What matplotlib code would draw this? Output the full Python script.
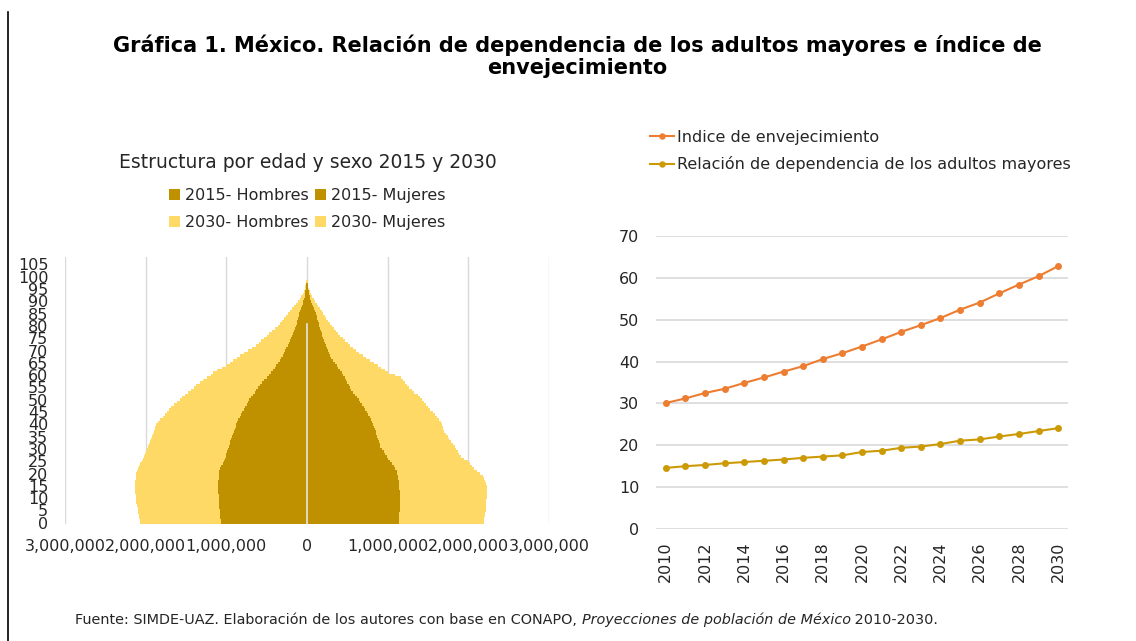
import matplotlib.pyplot as plt
from matplotlib.lines import Line2D
from matplotlib.ticker import FuncFormatter

# --- pyramid data (people, in thousands), ages 0..105 ---
edades = list(range(106))

h2015 = [1070, 1072, 1075, 1078, 1080, 1083, 1085, 1088, 1090, 1092,
         1095, 1097, 1098, 1100, 1100, 1100, 1099, 1098, 1096, 1094,
         1090, 1085, 1075, 1060, 1045, 1030, 1020, 1010, 1000, 990,
         980, 970, 960, 950, 940, 930, 920, 905, 895, 885,
         875, 865, 850, 835, 815, 800, 785, 765, 750, 735,
         715, 695, 675, 650, 630, 605, 580, 555, 530, 500,
         475, 450, 425, 400, 380, 360, 340, 320, 300, 285,
         270, 255, 240, 225, 210, 195, 180, 170, 160, 150,
         140, 130, 120, 110, 102, 95, 85, 75, 65, 55,
         45, 38, 30, 24, 19, 15, 11, 8, 5, 3,
         2, 1.5, 1, 0.5, 0.3, 0.2]

h2030 = [1000, 1003, 1005, 1007, 1010, 1012, 1015, 1022, 1025, 1028,
         1027, 1028, 1029, 1028, 1030, 1030, 1031, 1030, 1030, 1029,
         1030, 1025, 1020, 1020, 1020, 1020, 1015, 1010, 1005, 1000,
         998, 996, 994, 992, 990, 990, 990, 995, 995, 995,
         995, 985, 970, 955, 950, 940, 925, 915, 900, 880,
         865, 850, 835, 825, 810, 800, 790, 775, 760, 740,
         720, 710, 685, 655, 620, 600, 575, 550, 530, 495,
         460, 425, 390, 375, 360, 340, 320, 295, 270, 245,
         220, 205, 190, 175, 158, 140, 125, 110, 95, 80,
         65, 52, 42, 31, 21, 13, 9, 6, 4, 3,
         2, 1.5, 1, 1, 0.7, 0.3]

m2015 = [1140, 1142, 1144, 1145, 1146, 1147, 1148, 1149, 1150, 1150,
         1150, 1150, 1150, 1148, 1146, 1144, 1140, 1135, 1130, 1125,
         1120, 1110, 1095, 1075, 1055, 1035, 1010, 990, 970, 950,
         930, 910, 900, 890, 880, 870, 860, 850, 838, 826,
         814, 802, 790, 776, 760, 742, 722, 702, 682, 660,
         640, 618, 595, 572, 550, 533, 516, 499, 482, 465,
         448, 430, 410, 390, 370, 350, 325, 300, 285, 270,
         258, 246, 234, 222, 210, 200, 190, 180, 170, 160,
         150, 145, 140, 130, 120, 110, 100, 90, 75, 65,
         50, 42, 35, 28, 22, 17, 12, 8, 5, 3,
         3, 2, 1.5, 1, 0.5, 0.3]

m2030 = [1050, 1053, 1056, 1060, 1064, 1067, 1069, 1071, 1072, 1074,
         1076, 1078, 1079, 1082, 1084, 1084, 1082, 1075, 1065, 1055,
         1020, 995, 975, 970, 965, 955, 940, 920, 920, 920,
         920, 920, 908, 896, 884, 872, 860, 850, 852, 854,
         856, 856, 850, 839, 830, 818, 808, 798, 788, 785,
         780, 777, 775, 758, 750, 737, 724, 711, 703, 695,
         637, 580, 555, 530, 505, 480, 460, 435, 405, 370,
         347, 324, 301, 283, 265, 245, 220, 205, 190, 175,
         160, 143, 124, 110, 100, 90, 80, 70, 65, 55,
         50, 40, 30, 22, 14, 9, 6, 4, 3, 2,
         1, 1, 0.8, 0.5, 0.3, 0.2]

# --- line chart data ---
anios = list(range(2010, 2031))
indice_env = [30.1, 31.2, 32.5, 33.5, 34.9, 36.2, 37.6, 38.9, 40.6, 42.0, 43.6,
              45.3, 47.1, 48.7, 50.4, 52.4, 54.1, 56.3, 58.4, 60.4, 62.8]
rel_dep = [14.6, 15.0, 15.3, 15.7, 16.0, 16.3, 16.6, 17.0, 17.3, 17.6, 18.4,
           18.7, 19.4, 19.7, 20.3, 21.1, 21.4, 22.1, 22.7, 23.4, 24.1]

OSCURO = '#BF9000'
CLARO = '#FFD966'
NARANJA = '#ED7D31'
DORADO = '#CC9A06'
GRIS = '#D9D9D9'
TXT = '#262626'

plt.rcParams['font.family'] = ['DejaVu Sans']

W, H = 1136, 641
fig = plt.figure(figsize=(W / 100, H / 100), dpi=100)

def px(x0, y0, x1, y1):
    return [x0 / W, 1 - y1 / H, (x1 - x0) / W, (y1 - y0) / H]

# --- pyramid ---
ax1 = fig.add_axes(px(65, 257, 549, 524))
k = 1000
hb = [-v * k for v in h2015]
hb30 = [-v * k for v in h2030]
mb = [v * k for v in m2015]
mb30 = [v * k for v in m2030]
b1 = ax1.barh(edades, hb, height=1.0, color=OSCURO, linewidth=0, label='2015- Hombres')
b2 = ax1.barh(edades, mb, height=1.0, color=OSCURO, linewidth=0, label='2015- Mujeres')
b3 = ax1.barh(edades, hb30, left=hb, height=1.0, color=CLARO, linewidth=0, label='2030- Hombres')
b4 = ax1.barh(edades, mb30, left=mb, height=1.0, color=CLARO, linewidth=0, label='2030- Mujeres')
ax1.set_xlim(-3e6, 3e6)
ax1.set_ylim(-0.5, 108)
ax1.set_xticks([-3e6, -2e6, -1e6, 0, 1e6, 2e6, 3e6])
ax1.xaxis.set_major_formatter(FuncFormatter(lambda v, p: f'{abs(int(v)):,}'))
ax1.set_yticks(range(0, 106, 5))
ax1.grid(axis='x', color=GRIS, linewidth=1, zorder=0)
ax1.set_axisbelow(True)
ax1.axvline(0, color='#E6E6E6', linewidth=1.2, ymax=0.75, zorder=3)
for s in ax1.spines.values():
    s.set_visible(False)
ax1.tick_params(length=0, labelsize=11.5, colors=TXT)
ax1.tick_params(axis='x', pad=11)
ax1.tick_params(axis='y', pad=12)

fig.text(308 / W, 1 - 163 / H, 'Estructura por edad y sexo 2015 y 2030',
         ha='center', va='center', fontsize=13.5, color=TXT)
fig.legend([b1, b3, b2, b4], ['2015- Hombres', '2030- Hombres', '2015- Mujeres', '2030- Mujeres'],
           ncol=2, loc='center', bbox_to_anchor=(307 / W, 1 - 209 / H), frameon=False,
           fontsize=11.5, handlelength=0.7, handleheight=0.7, handletextpad=0.3,
           columnspacing=0.4, labelspacing=0.75, borderpad=0, labelcolor=TXT)

# --- line chart ---
ax2 = fig.add_axes(px(656, 236, 1068, 529))
l1, = ax2.plot(anios, indice_env, color=NARANJA, marker='o', markersize=4, linewidth=1.5)
l2, = ax2.plot(anios, rel_dep, color=DORADO, marker='o', markersize=4, linewidth=1.5)
ax2.set_xlim(2009.5, 2030.5)
ax2.set_ylim(0, 70)
ax2.set_yticks(range(0, 71, 10))
ax2.set_xticks(range(2010, 2031, 2))
ax2.grid(axis='y', color=GRIS, linewidth=1.2)
ax2.set_axisbelow(True)
for s in ax2.spines.values():
    s.set_visible(False)
ax2.tick_params(length=0, labelsize=11.5, colors=TXT)
ax2.tick_params(axis='x', rotation=90, pad=9)
ax2.tick_params(axis='y', pad=12)

fig.legend([l1, l2], ['Indice de envejecimiento', 'Relación de dependencia de los adultos mayores'],
           loc='upper left', bbox_to_anchor=(650 / W, 1 - 130 / H), frameon=False,
           fontsize=11.5, handlelength=1.5, handletextpad=0.2, labelspacing=0.7,
           borderpad=0, borderaxespad=0, labelcolor=TXT, markerscale=0.9)

# --- title ---
fig.text(577 / W, 1 - 56 / H,
         'Gráfica 1. México. Relación de dependencia de los adultos mayores e índice de\nenvejecimiento',
         ha='center', va='center', fontsize=15, fontweight='bold',
         linespacing=1.1, color='black')

# --- footer ---
fs = 10.4
t1 = fig.text(75 / W, 1 - 620 / H,
              'Fuente: SIMDE-UAZ. Elaboración de los autores con base en CONAPO, ',
              ha='left', va='center', fontsize=fs, color=TXT)
t2 = fig.text(0, 0, 'Proyecciones de población de México', fontsize=fs, style='italic',
              color=TXT, va='center')
t3 = fig.text(0, 0, ' 2010-2030.', fontsize=fs, color=TXT, va='center')
fig.canvas.draw()
r = fig.canvas.get_renderer()
bb = t1.get_window_extent(r)
t2.set_position((bb.x1 / W, 1 - 620 / H))
bb2 = t2.get_window_extent(r)
t3.set_position((bb2.x1 / W, 1 - 620 / H))

# left border line
fig.add_artist(Line2D([8 / W, 8 / W], [0, 1 - 12 / H], color='black', linewidth=1.2))

fig.savefig('out.png', dpi=100)
